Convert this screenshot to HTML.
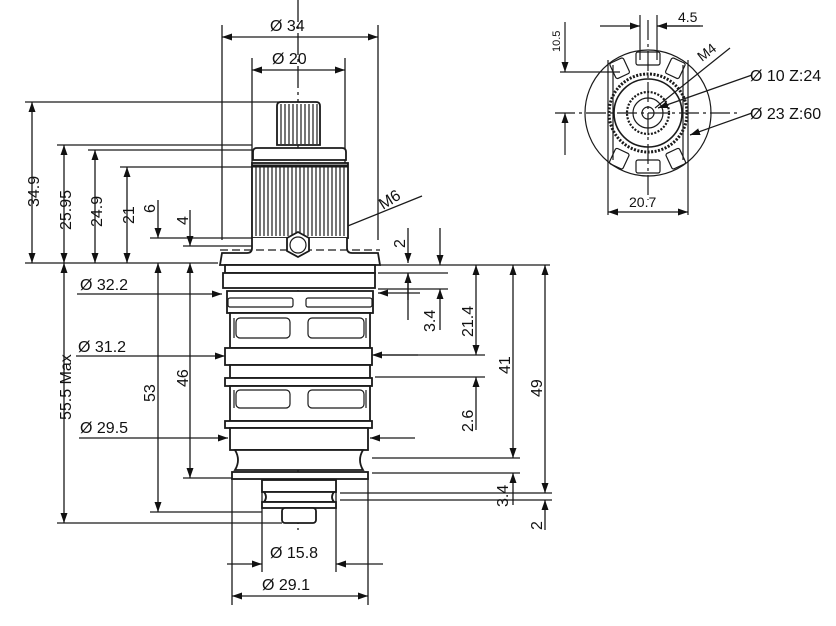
<!DOCTYPE html>
<html><head><meta charset="utf-8"><style>
html,body{margin:0;padding:0;background:#fff;}
svg{display:block;}
text{font-family:"Liberation Sans",sans-serif;fill:#111;}
</style></head><body>
<svg width="836" height="626" viewBox="0 0 836 626" xmlns="http://www.w3.org/2000/svg">
<defs>
<marker id="a" viewBox="0 0 10 10" refX="10" refY="5" markerWidth="10" markerHeight="10" orient="auto-start-reverse" markerUnits="userSpaceOnUse"><path d="M0,1.5 L10,5 L0,8.5 z" fill="#111"/></marker>
</defs>
<g stroke="#1a1a1a" stroke-width="1.3" fill="none">
<line x1="298" y1="0" x2="298" y2="530" stroke-dasharray="22,4,3,4"/>
<line x1="222" y1="25" x2="222" y2="240"/><line x1="378" y1="25" x2="378" y2="240"/>
<line x1="222" y1="37" x2="378" y2="37" marker-start="url(#a)" marker-end="url(#a)"/>
<line x1="252" y1="58" x2="252" y2="230"/><line x1="345" y1="58" x2="345" y2="230"/>
<line x1="252" y1="70" x2="345" y2="70" marker-start="url(#a)" marker-end="url(#a)"/>
<line x1="25" y1="102" x2="285" y2="102"/>
<line x1="57" y1="145" x2="252" y2="145"/>
<line x1="88" y1="150" x2="252" y2="150"/>
<line x1="120" y1="167" x2="252" y2="167"/>
<line x1="150" y1="238" x2="252" y2="238"/>
<line x1="183" y1="246" x2="252" y2="246"/>
<line x1="25" y1="263" x2="218" y2="263"/>
<line x1="150" y1="512" x2="262" y2="512"/>
<line x1="183" y1="478" x2="232" y2="478"/>
<line x1="57" y1="523" x2="282" y2="523"/>
<line x1="32" y1="102" x2="32" y2="263" marker-start="url(#a)" marker-end="url(#a)"/>
<line x1="64" y1="145" x2="64" y2="263" marker-start="url(#a)" marker-end="url(#a)"/>
<line x1="64" y1="263" x2="64" y2="523" marker-start="url(#a)" marker-end="url(#a)"/>
<line x1="95" y1="150" x2="95" y2="263" marker-start="url(#a)" marker-end="url(#a)"/>
<line x1="127" y1="167" x2="127" y2="263" marker-start="url(#a)" marker-end="url(#a)"/>
<line x1="158" y1="200" x2="158" y2="238" marker-end="url(#a)"/>
<line x1="158" y1="263" x2="158" y2="512" marker-start="url(#a)" marker-end="url(#a)"/>
<line x1="190" y1="210" x2="190" y2="246" marker-end="url(#a)"/>
<line x1="190" y1="263" x2="190" y2="478" marker-start="url(#a)" marker-end="url(#a)"/>
<line x1="77" y1="294" x2="222" y2="294" marker-end="url(#a)"/>
<line x1="76" y1="356" x2="225" y2="356" marker-end="url(#a)"/>
<line x1="79" y1="438" x2="228" y2="438" marker-end="url(#a)"/>
<line x1="380" y1="265" x2="550" y2="265"/>
<line x1="378" y1="273" x2="448" y2="273"/>
<line x1="378" y1="289" x2="448" y2="289"/>
<line x1="375" y1="355" x2="485" y2="355"/>
<line x1="375" y1="377" x2="485" y2="377"/>
<line x1="372" y1="458" x2="520" y2="458"/>
<line x1="372" y1="473" x2="520" y2="473"/>
<line x1="340" y1="493" x2="552" y2="493"/>
<line x1="340" y1="500" x2="552" y2="500"/>
<line x1="408" y1="228" x2="408" y2="263" marker-end="url(#a)"/>
<line x1="408" y1="300" x2="408" y2="273" marker-end="url(#a)"/>
<line x1="408" y1="273" x2="408" y2="320"/>
<line x1="440" y1="228" x2="440" y2="265" marker-end="url(#a)"/>
<line x1="440" y1="330" x2="440" y2="289" marker-end="url(#a)"/>
<line x1="476" y1="265" x2="476" y2="355" marker-start="url(#a)" marker-end="url(#a)"/>
<line x1="476" y1="430" x2="476" y2="377" marker-end="url(#a)"/>
<line x1="513" y1="265" x2="513" y2="458" marker-start="url(#a)" marker-end="url(#a)"/>
<line x1="513" y1="505" x2="513" y2="473" marker-end="url(#a)"/>
<line x1="545" y1="265" x2="545" y2="493" marker-start="url(#a)" marker-end="url(#a)"/>
<line x1="545" y1="530" x2="545" y2="500" marker-end="url(#a)"/>
<line x1="420" y1="293" x2="378" y2="293" marker-end="url(#a)"/>
<line x1="418" y1="355" x2="372" y2="355" marker-end="url(#a)"/>
<line x1="415" y1="438" x2="370" y2="438" marker-end="url(#a)"/>
<line x1="262" y1="480" x2="262" y2="572"/><line x1="336" y1="480" x2="336" y2="572"/>
<line x1="232" y1="478" x2="232" y2="605"/><line x1="368" y1="478" x2="368" y2="605"/>
<line x1="227" y1="564" x2="262" y2="564" marker-end="url(#a)"/>
<line x1="383" y1="564" x2="336" y2="564" marker-end="url(#a)"/>
<line x1="232" y1="596" x2="368" y2="596" marker-start="url(#a)" marker-end="url(#a)"/>
<line x1="318" y1="238" x2="422" y2="196"/>
</g>
<g stroke="#1a1a1a" stroke-width="1.8" fill="#fff">
<path d="M277,145 L277,106 Q277,102 281,102 L316,102 Q320,102 320,106 L320,145 Z"/>
<path d="M253,160 L253,152 Q253,148 257,148 L342,148 Q346,148 346,152 L346,160 Z"/>
<rect x="252" y="163" width="96" height="75"/>
<path d="M252,238 L252,248 Q252,253 247,253 L222,253 L220,265 L380,265 L378,253 L352,253 Q347,253 347,248 L347,238"/>
<rect x="225" y="265" width="150" height="8"/>
<rect x="223" y="273" width="152" height="15"/>
<rect x="227" y="291" width="146" height="22"/>
<rect x="230" y="313" width="140" height="35"/>
<rect x="225" y="348" width="147" height="17"/>
<rect x="230" y="365" width="140" height="13"/>
<rect x="225" y="378" width="147" height="8"/>
<rect x="230" y="386" width="140" height="35"/>
<rect x="225" y="421" width="147" height="7"/>
<rect x="230" y="428" width="138" height="22"/>
<path d="M235,450 L363,450 Q357,460 363,470 L235,470 Q241,460 235,450 Z"/>
<rect x="232" y="472" width="136" height="7"/>
<rect x="262" y="480" width="74" height="12"/>
<path d="M264,492 L334,492 Q330,497 334,502 L264,502 Q268,497 264,492 Z"/>
<rect x="262" y="502" width="74" height="6"/>
<rect x="282" y="508" width="34" height="15" rx="3"/>
</g>
<g stroke="#1a1a1a" stroke-width="1.2" fill="none">
<path d="M281,104 V144 M285,104 V144 M289,104 V144 M293,104 V144 M297,104 V144 M301,104 V144 M305,104 V144 M309,104 V144 M313,104 V144 M317,104 V144"/>
<path d="M256,165 V236 M260,165 V236 M264,165 V236 M268,165 V236 M272,165 V236 M276,165 V236 M280,165 V236 M284,165 V236 M288,165 V236 M292,165 V236 M296,165 V236 M300,165 V236 M304,165 V236 M308,165 V236 M312,165 V236 M316,165 V236 M320,165 V236 M324,165 V236 M328,165 V236 M332,165 V236 M336,165 V236 M340,165 V236 M344,165 V236"/>
<line x1="252" y1="166" x2="348" y2="166" stroke-width="3"/>
<rect x="228" y="298" width="65" height="9" rx="2"/><rect x="306" y="298" width="66" height="9" rx="2"/>
<rect x="236" y="318" width="54" height="20" rx="4"/><rect x="308" y="318" width="56" height="20" rx="4"/>
<rect x="236" y="390" width="54" height="18" rx="4"/><rect x="308" y="390" width="56" height="18" rx="4"/>
<line x1="234" y1="318" x2="234" y2="338"/><line x1="366" y1="318" x2="366" y2="338"/>
<line x1="234" y1="390" x2="234" y2="408"/><line x1="366" y1="390" x2="366" y2="408"/>
<line x1="220" y1="250" x2="380" y2="250" stroke-dasharray="8,4"/>
</g>
<polygon points="298,232 309,238 309,251 298,257 287,251 287,238" fill="#fff" stroke="#1a1a1a" stroke-width="1.8"/>
<circle cx="298" cy="245" r="8" fill="none" stroke="#1a1a1a" stroke-width="1.2"/>
<g stroke="#1a1a1a" stroke-width="1.2" fill="none">
<circle cx="648" cy="113" r="63"/>
<line x1="608" y1="60" x2="608" y2="215"/><line x1="688" y1="60" x2="688" y2="215"/>
<line x1="613" y1="65" x2="613" y2="160"/><line x1="683" y1="65" x2="683" y2="160"/>
<circle cx="648" cy="113" r="39" stroke-width="3" stroke-dasharray="2,1.5"/>
<circle cx="648" cy="113" r="34" stroke-width="1.6"/>
<circle cx="648" cy="113" r="21" stroke-dasharray="2,1.5" stroke-width="2.2"/>
<circle cx="648" cy="113" r="15"/>
<circle cx="648" cy="113" r="6"/>
<rect x="636" y="52" width="24" height="13" rx="2"/>
<rect x="636" y="160" width="24" height="13" rx="2"/>
<rect x="612" y="60" width="15" height="17" rx="2" transform="rotate(-25 619 68)"/>
<rect x="668" y="60" width="15" height="17" rx="2" transform="rotate(25 676 68)"/>
<rect x="612" y="150" width="15" height="17" rx="2" transform="rotate(25 619 158)"/>
<rect x="668" y="150" width="15" height="17" rx="2" transform="rotate(-25 676 158)"/>
<line x1="640" y1="15" x2="640" y2="60"/><line x1="657" y1="15" x2="657" y2="60"/>
<line x1="648" y1="20" x2="648" y2="200" stroke-dasharray="20,4,3,4"/>
<line x1="555" y1="113" x2="740" y2="113" stroke-dasharray="20,4,3,4"/>
<line x1="600" y1="26" x2="640" y2="26" marker-end="url(#a)"/>
<line x1="700" y1="26" x2="657" y2="26" marker-end="url(#a)"/>
<line x1="657" y1="26" x2="703" y2="26"/>
<line x1="560" y1="72" x2="620" y2="72"/>
<line x1="565" y1="22" x2="565" y2="72" marker-end="url(#a)"/>
<line x1="565" y1="155" x2="565" y2="113" marker-end="url(#a)"/>
<line x1="608" y1="212" x2="688" y2="212" marker-start="url(#a)" marker-end="url(#a)"/>
<line x1="752" y1="75" x2="658" y2="108" marker-end="url(#a)"/>
<line x1="752" y1="113" x2="690" y2="135" marker-end="url(#a)"/>
<line x1="730" y1="48" x2="655" y2="108"/>
</g>
<g font-size="16">
<text x="270" y="31">Ø 34</text>
<text x="272" y="64">Ø 20</text>
<text x="80" y="290">Ø 32.2</text>
<text x="78" y="352">Ø 31.2</text>
<text x="80" y="433">Ø 29.5</text>
<text x="270" y="558">Ø 15.8</text>
<text x="262" y="590">Ø 29.1</text>
<text transform="translate(39,207) rotate(-90)">34.9</text>
<text transform="translate(71,230) rotate(-90)">25.95</text>
<text transform="translate(102,227) rotate(-90)">24.9</text>
<text transform="translate(134,224) rotate(-90)">21</text>
<text transform="translate(155,213) rotate(-90)">6</text>
<text transform="translate(188,225) rotate(-90)">4</text>
<text transform="translate(71,420) rotate(-90)">55.5   Max</text>
<text transform="translate(155,402) rotate(-90)">53</text>
<text transform="translate(188,387) rotate(-90)">46</text>
<text transform="translate(405,248) rotate(-90)">2</text>
<text transform="translate(435,332) rotate(-90)">3.4</text>
<text transform="translate(473,337) rotate(-90)">21.4</text>
<text transform="translate(473,432) rotate(-90)">2.6</text>
<text transform="translate(510,374) rotate(-90)">41</text>
<text transform="translate(542,397) rotate(-90)">49</text>
<text transform="translate(508,507) rotate(-90)">3.4</text>
<text transform="translate(542,530) rotate(-90)">2</text>
<text transform="translate(383,210) rotate(-32)">M6</text>
<text x="750" y="81">Ø 10  Z:24</text>
<text x="750" y="119">Ø 23  Z:60</text>
<text x="629" y="207" font-size="14">20.7</text>
<text x="678" y="22" font-size="14">4.5</text>
<text transform="translate(560,52) rotate(-90)" font-size="11">10.5</text>
<text transform="translate(702,62) rotate(-38)" font-size="14">M4</text>
</g>
</svg>
</body></html>
